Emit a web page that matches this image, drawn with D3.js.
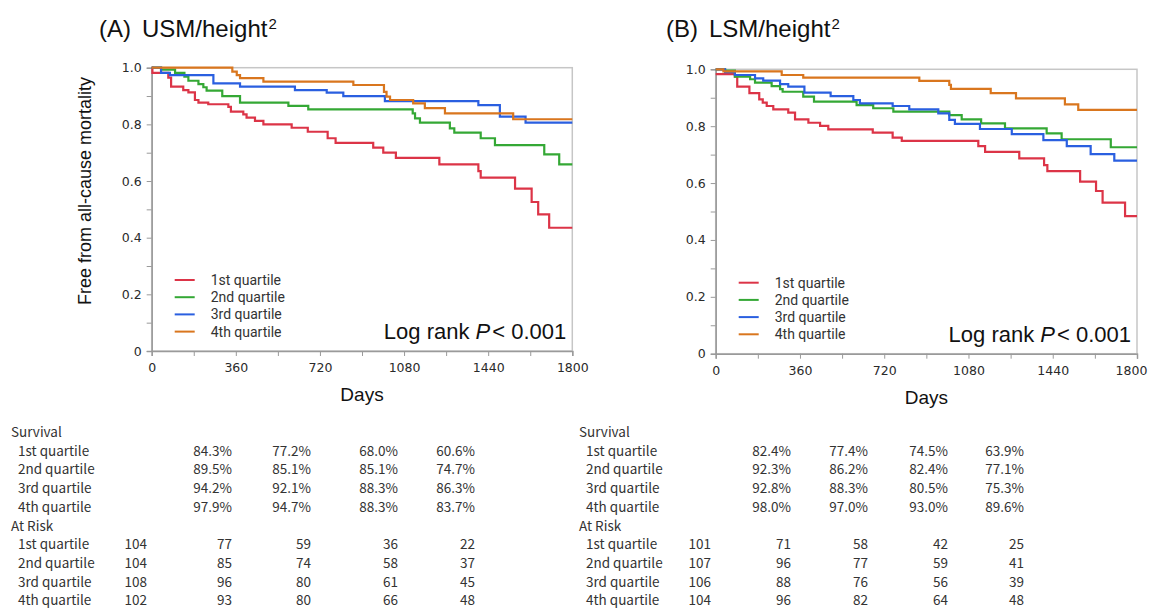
<!DOCTYPE html>
<html lang="en">
<head>
<meta charset="UTF-8">
<title>Kaplan-Meier USM / LSM</title>
<script src="https://d3js.org/d3.v7.min.js"></script>
<style>
  body { margin: 0; background: #fff; }
  svg { display: block; }
</style>
</head>
<body>
<svg id="chart" width="1149" height="609"></svg>
<script>
// ---- data ----
const groups = ["1st quartile", "2nd quartile", "3rd quartile", "4th quartile"];
const colors = ["#dc3447", "#34a835", "#2a5fe0", "#d9761e"];
const xTicks = [0, 360, 720, 1080, 1440, 1800];

// panel A: USM/height^2, steps as [day, survival]
const usmQ1 = [[0, 1], [3, 0.982], [71, 0.965], [83, 0.933], [135, 0.921], [157, 0.913], [185, 0.886],
  [200, 0.877], [242, 0.871], [328, 0.862], [339, 0.845], [392, 0.835], [406, 0.824], [442, 0.812],
  [478, 0.800], [599, 0.788], [668, 0.774], [753, 0.751], [787, 0.735], [948, 0.718], [991, 0.700],
  [1045, 0.682], [1231, 0.659], [1398, 0.635], [1408, 0.612], [1555, 0.573], [1626, 0.526],
  [1654, 0.482], [1701, 0.435]];
const usmQ2 = [[0, 1], [40, 0.993], [100, 0.982], [140, 0.968], [157, 0.954], [200, 0.942], [221, 0.931],
  [235, 0.919], [302, 0.900], [378, 0.877], [585, 0.865], [670, 0.853], [1117, 0.839], [1127, 0.821],
  [1148, 0.806], [1276, 0.786], [1295, 0.771], [1408, 0.751], [1469, 0.727], [1680, 0.694], [1744, 0.659]];
const usmQ3 = [[0, 1], [40, 0.982], [78, 0.974], [264, 0.945], [378, 0.933], [613, 0.921], [749, 0.912],
  [820, 0.900], [998, 0.882], [1398, 0.868], [1490, 0.827], [1600, 0.806]];
const usmQ4 = [[0, 1], [345, 0.986], [364, 0.974], [378, 0.963], [478, 0.951], [863, 0.939], [994, 0.915],
  [1005, 0.898], [1020, 0.886], [1119, 0.874], [1169, 0.857], [1255, 0.839], [1547, 0.818]];

// panel B: LSM/height^2
const lsmQ1 = [[0, 0.983], [82, 0.974], [92, 0.939], [144, 0.916], [186, 0.894], [201, 0.883], [218, 0.871],
  [246, 0.859], [310, 0.848], [339, 0.824], [396, 0.812], [446, 0.801], [481, 0.789], [671, 0.777],
  [756, 0.760], [795, 0.748], [1122, 0.730], [1151, 0.710], [1297, 0.687], [1403, 0.663], [1417, 0.642],
  [1557, 0.605], [1625, 0.572], [1653, 0.531], [1749, 0.484]];
const lsmQ2 = [[0, 1], [40, 0.995], [82, 0.974], [147, 0.965], [168, 0.953], [239, 0.941], [275, 0.930],
  [286, 0.921], [374, 0.904], [420, 0.886], [602, 0.874], [673, 0.863], [759, 0.851], [998, 0.839],
  [1051, 0.824], [1134, 0.810], [1236, 0.792], [1414, 0.775], [1478, 0.754], [1688, 0.726]];
const lsmQ3 = [[0, 1], [40, 0.990], [82, 0.980], [168, 0.968], [203, 0.960], [275, 0.948], [310, 0.939],
  [379, 0.918], [491, 0.906], [588, 0.892], [616, 0.880], [756, 0.871], [827, 0.859], [951, 0.845],
  [998, 0.822], [1022, 0.808], [1129, 0.790], [1265, 0.772], [1400, 0.751], [1500, 0.730],
  [1602, 0.702], [1703, 0.679]];
const lsmQ4 = [[0, 1], [33, 0.993], [282, 0.980], [374, 0.971], [870, 0.959], [998, 0.945], [1005, 0.931],
  [1175, 0.916], [1283, 0.898], [1492, 0.877], [1549, 0.857]];

// tables under the panels
const usmSurvival = [["84.3%", "77.2%", "68.0%", "60.6%"], ["89.5%", "85.1%", "85.1%", "74.7%"],
  ["94.2%", "92.1%", "88.3%", "86.3%"], ["97.9%", "94.7%", "88.3%", "83.7%"]];
const usmAtRisk = [[104, 77, 59, 36, 22], [104, 85, 74, 58, 37], [108, 96, 80, 61, 45], [102, 93, 80, 66, 48]];
const lsmSurvival = [["82.4%", "77.4%", "74.5%", "63.9%"], ["92.3%", "86.2%", "82.4%", "77.1%"],
  ["92.8%", "88.3%", "80.5%", "75.3%"], ["98.0%", "97.0%", "93.0%", "89.6%"]];
const lsmAtRisk = [[101, 71, 58, 42, 25], [107, 96, 77, 59, 41], [106, 88, 76, 56, 39], [104, 96, 82, 64, 48]];

const svg = d3.select("#chart");
const sans = "'Liberation Sans', Arial, sans-serif";
const tickFont = "'DejaVu Sans', Verdana, sans-serif";
const tableFont = "'Noto Sans CJK JP', 'Noto Sans', sans-serif";
const legendFont = "Roboto, 'Noto Sans', sans-serif";

function drawPanel(o) {
  const g = svg.append("g");
  const x = d3.scaleLinear().domain([0, 1800]).range([o.left, o.right]);
  const y = d3.scaleLinear().domain([0, 1]).range([o.bottom, o.top]);

  // frame (top/right lighter)
  g.append("rect")
    .attr("x", o.left).attr("y", o.top)
    .attr("width", o.right - o.left).attr("height", o.bottom - o.top)
    .attr("fill", "none").attr("stroke", "#c6c6c6").attr("stroke-width", 1.5);

  // y axis
  const yAxis = g.append("g").attr("transform", `translate(${o.left},0)`)
    .call(d3.axisLeft(y).tickValues(d3.range(0, 1.01, 0.1)).tickSize(5)
      .tickFormat(d => {
        const r = Math.round(d * 10);
        if (r % 2) return "";
        return r === 0 ? "0" : (r / 10).toFixed(1);
      }));
  // x axis
  const xAxis = g.append("g").attr("transform", `translate(0,${o.bottom})`)
    .call(d3.axisBottom(x).tickValues(d3.range(0, 1801, 180)).tickSize(5)
      .tickFormat(d => xTicks.includes(d) ? d : ""));

  [yAxis, xAxis].forEach(a => {
    a.select(".domain").attr("stroke", "#9a9a9a").attr("stroke-width", 1.5);
    a.selectAll(".tick line").attr("stroke", "#9a9a9a");
    a.selectAll("text").attr("font-family", tickFont).attr("font-size", 12.5).attr("fill", "#2a2a2a");
  });
  yAxis.selectAll("text").attr("x", -10);
  xAxis.selectAll("text").attr("y", 12);
  // keep the last label inside the page
  xAxis.selectAll(".tick text").filter(d => d === 1800).attr("dx", o.lastDx || 0);

  // curves
  const line = d3.line().x(d => x(d[0])).y(d => y(d[1])).curve(d3.curveStepAfter);
  o.series.forEach((s, i) => {
    const pts = s.concat([[1800, s[s.length - 1][1]]]);
    g.append("path").attr("d", line(pts))
      .attr("fill", "none").attr("stroke", colors[i]).attr("stroke-width", 2.2);
  });

  // title
  const t = g.append("text").attr("x", o.titleX).attr("y", 37)
    .attr("font-family", sans).attr("font-size", 24).attr("fill", "#111");
  t.append("tspan").text(o.tag);
  t.append("tspan").attr("dx", 11).text(o.title);
  t.append("tspan").attr("font-size", 15).attr("dy", -8).attr("dx", 1).text("2");

  // x title
  g.append("text").attr("x", (o.left + o.right) / 2).attr("y", o.bottom + 50)
    .attr("text-anchor", "middle").attr("font-family", sans).attr("font-size", 19).attr("fill", "#111")
    .text("Days");

  // legend
  groups.forEach((name, i) => {
    const ly = o.bottom - 71 + i * 17.2;
    g.append("line").attr("x1", o.left + 23).attr("x2", o.left + 43)
      .attr("y1", ly).attr("y2", ly).attr("stroke", colors[i]).attr("stroke-width", 2);
    g.append("text").attr("x", o.left + 59).attr("y", ly + 5)
      .attr("font-family", legendFont).attr("font-size", 14).attr("fill", "#333").text(name);
  });

  // log rank
  const lr = g.append("text").attr("x", o.right - 6).attr("y", o.bottom - 12)
    .attr("text-anchor", "end").attr("font-family", sans).attr("font-size", 22).attr("fill", "#111");
  lr.append("tspan").text("Log rank ");
  lr.append("tspan").attr("font-style", "italic").text("P");
  lr.append("tspan").attr("dx", 2).text("< 0.001");

  // table
  const rowY = d3.range(10).map(i => 437 + i * 18.7);
  const tt = (tx, ty, txt, anchor) => g.append("text").attr("x", tx).attr("y", ty)
    .attr("text-anchor", anchor || "start").attr("font-family", tableFont)
    .attr("font-size", 13.5).attr("fill", "#333").text(txt);
  tt(o.tabX, rowY[0], "Survival");
  tt(o.tabX, rowY[5], "At Risk");
  groups.forEach((name, i) => {
    tt(o.tabX + 7, rowY[1 + i], name);
    tt(o.tabX + 7, rowY[6 + i], name);
    o.survival[i].forEach((v, j) => tt(o.cols[j + 1], rowY[1 + i], v, "end"));
    o.atRisk[i].forEach((v, j) => tt(o.cols[j], rowY[6 + i], v, "end"));
  });
}

drawPanel({
  left: 151.7, right: 572.3, top: 67.7, bottom: 351,
  titleX: 99, tag: "(A)", title: "USM/height",
  series: [usmQ1, usmQ2, usmQ3, usmQ4],
  tabX: 11, cols: [147, 232, 311, 398, 475],
  survival: usmSurvival, atRisk: usmAtRisk
});
drawPanel({
  left: 715.7, right: 1137, top: 69.3, bottom: 353.7,
  titleX: 666, tag: "(B)", title: "LSM/height", lastDx: -6,
  series: [lsmQ1, lsmQ2, lsmQ3, lsmQ4],
  tabX: 579, cols: [711, 791, 868, 948, 1024],
  survival: lsmSurvival, atRisk: lsmAtRisk
});

// y axis title (panel A only)
svg.append("text")
  .attr("transform", "translate(91,191) rotate(-90)")
  .attr("text-anchor", "middle").attr("font-family", sans).attr("font-size", 18).attr("fill", "#111")
  .text("Free from all-cause mortality");
</script>
</body>
</html>
